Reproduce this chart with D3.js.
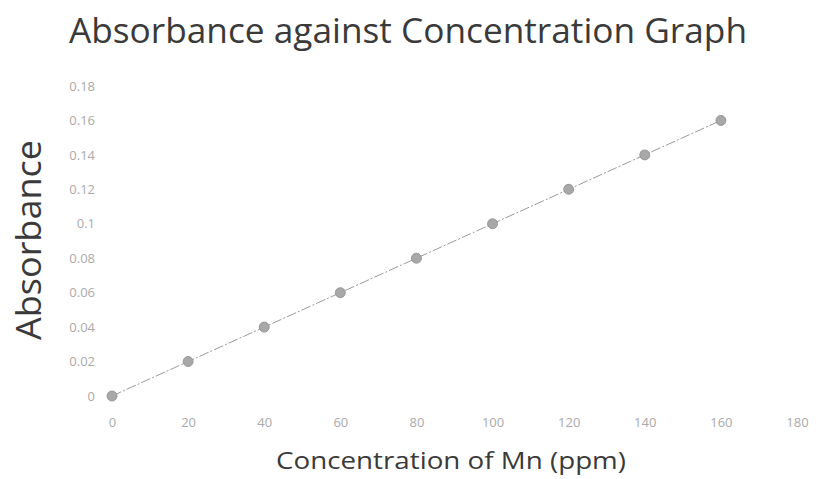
<!DOCTYPE html>
<html>
<head>
<meta charset="utf-8">
<script src="https://cdn.jsdelivr.net/npm/d3@7"></script>
<style>
  html, body { margin: 0; padding: 0; background: #fff; }
  svg { display: block; }
</style>
</head>
<body>
<svg id="chart" width="818" height="479"></svg>
<script>
const concentration = [0, 20, 40, 60, 80, 100, 120, 140, 160];
const absorbance = [0, 0.02, 0.04, 0.06, 0.08, 0.1, 0.12, 0.14, 0.16];
const xTicks = [0, 20, 40, 60, 80, 100, 120, 140, 160, 180];
const yTicks = [0, 0.02, 0.04, 0.06, 0.08, 0.1, 0.12, 0.14, 0.16, 0.18];
const yTickLabels = ["0", "0.02", "0.04", "0.06", "0.08", "0.1", "0.12", "0.14", "0.16", "0.18"];

const svg = d3.select("#chart");
const font = "'Open Sans', sans-serif";

const x = d3.scaleLinear().domain([0, 180]).range([112, 797]);
const y = d3.scaleLinear().domain([0, 0.18]).range([396, 86]);

// Title
svg.append("text")
  .attr("x", 408).attr("y", 43)
  .attr("text-anchor", "middle")
  .attr("font-family", font)
  .attr("font-size", 35)
  .attr("fill", "#3a3a3a")
  .attr("textLength", 678)
  .attr("lengthAdjust", "spacingAndGlyphs")
  .text("Absorbance against Concentration Graph");

// Axes (labels only)
const xAxis = d3.axisBottom(x).tickValues(xTicks).tickSize(0).tickPadding(0);
const gx = svg.append("g").attr("transform", "translate(0,418)").call(xAxis);
gx.select(".domain").remove();
gx.selectAll("text")
  .attr("font-family", font).attr("font-size", 13).attr("fill", "#aaa").attr("dy", "0.71em");

const yAxis = d3.axisLeft(y).tickValues(yTicks).tickFormat((d, i) => yTickLabels[i]).tickSize(0).tickPadding(0);
const gy = svg.append("g").attr("transform", "translate(95,0)").call(yAxis);
gy.select(".domain").remove();
gy.selectAll("text")
  .attr("font-family", font).attr("font-size", 13).attr("fill", "#aaa");

// Axis titles
svg.append("text")
  .attr("transform", "translate(41,240) rotate(-90)")
  .attr("text-anchor", "middle")
  .attr("font-family", font)
  .attr("font-size", 34)
  .attr("fill", "#3a3a3a")
  .attr("textLength", 200)
  .attr("lengthAdjust", "spacingAndGlyphs")
  .text("Absorbance");

svg.append("text")
  .attr("x", 451).attr("y", 469)
  .attr("text-anchor", "middle")
  .attr("font-family", font)
  .attr("font-size", 23)
  .attr("fill", "#3a3a3a")
  .attr("textLength", 350)
  .attr("lengthAdjust", "spacingAndGlyphs")
  .text("Concentration of Mn (ppm)");

// Line
const line = d3.line().x((d, i) => x(concentration[i])).y(d => y(d));
svg.append("path")
  .datum(absorbance)
  .attr("d", line)
  .attr("fill", "none")
  .attr("stroke", "#9a9a9a")
  .attr("stroke-width", 1)
  .attr("stroke-dasharray", "10,2,2,2");

// Points
svg.selectAll("circle.pt")
  .data(absorbance)
  .enter().append("circle")
  .attr("class", "pt")
  .attr("cx", (d, i) => x(concentration[i]))
  .attr("cy", d => y(d))
  .attr("r", 5)
  .attr("fill", "#a8a8a8")
  .attr("stroke", "#8c8c8c")
  .attr("stroke-width", 0.8);
</script>
</body>
</html>
